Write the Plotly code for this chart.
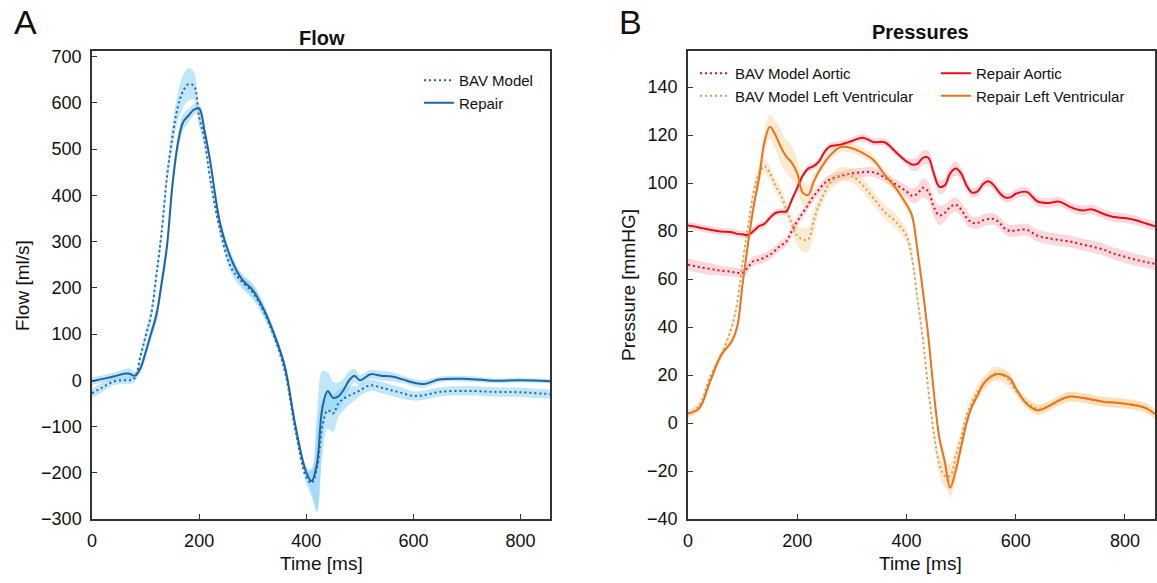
import plotly.graph_objects as go

# ---------------- Flow panel data ----------------
t_flow = [0, 20, 40, 60, 70, 80, 90, 100, 110, 120, 130, 140, 150, 160, 170, 180, 190, 200,
          210, 220, 240, 260, 280, 300, 320, 340, 360, 380, 400, 410, 420, 430, 440, 450,
          460, 470, 480, 490, 500, 520, 540, 560, 580, 600, 620, 650, 700, 750, 800, 855]
flow_repair = [-2, 3, 8, 14, 14, 10, 25, 60, 100, 140, 210, 290, 420, 510, 558, 572, 585, 588,
               540, 478, 335, 262, 218, 195, 155, 100, 30, -100, -199, -218, -180, -60, -23, -38,
               -35, -20, 0, 10, 0, 13, 10, 8, 2, -5, -8, 2, 3, -1, 0, -2]
flow_bav = [-28, -15, -3, 0, 0, 5, 50, 95, 140, 225, 320, 440, 525, 590, 625, 640, 637, 570,
            520, 440, 320, 243, 213, 190, 150, 95, 20, -110, -210, -222, -190, -100, -65, -72,
            -50, -40, -33, -28, -22, -11, -16, -22, -28, -34, -32, -25, -23, -25, -26, -30]
flow_repair_sd = [8, 8, 8, 10, 12, 8, 10, 12, 14, 16, 18, 20, 22, 20, 18, 15, 12, 10,
                  10, 10, 10, 12, 12, 14, 12, 10, 10, 10, 12, 25, 105, 80, 40, 35,
                  30, 25, 20, 15, 12, 10, 10, 10, 8, 8, 8, 6, 6, 5, 5, 5]
flow_bav_sd = [10, 10, 8, 8, 8, 8, 10, 12, 14, 16, 18, 20, 25, 30, 35, 35, 30, 20,
               15, 12, 10, 12, 15, 15, 12, 10, 10, 10, 12, 30, 90, 60, 40, 40,
               30, 25, 20, 15, 12, 12, 12, 12, 12, 10, 10, 10, 10, 10, 10, 10]

# ---------------- Pressure panel data ----------------
t_press = [0, 20, 40, 60, 80, 90, 100, 110, 120, 130, 140, 150, 160, 170, 180, 190, 200, 210,
           220, 230, 240, 250, 260, 280, 300, 320, 340, 360, 380, 400, 410, 420, 430, 440,
           450, 460, 470, 480, 490, 500, 510, 520, 530, 540, 550, 560, 570, 580, 590, 600,
           620, 640, 660, 680, 700, 720, 740, 760, 780, 800, 820, 840, 855]
p_repair_ao = [82.3, 81.5, 80.5, 79.8, 79.5, 78.8, 78.6, 78.4, 80, 82, 83, 85.5, 87.5, 88, 88.2,
               93, 98, 103, 106, 107, 109, 113, 115.3, 116, 117.5, 118.9, 117, 117, 113, 109,
               107.7, 108, 110.5, 110.5, 104, 98.5, 99, 104, 106, 104, 99, 96, 96.5, 99.5, 100.7,
               99, 96, 94, 94, 95.5, 96.3, 92.3, 91.7, 92.2, 90, 88.6, 89, 87.2, 85.8, 85.4, 84.5,
               83, 82]
p_bav_ao = [66, 65, 64.2, 63.5, 63, 62.6, 62.5, 65, 67.5, 68, 69, 70.1, 72, 74, 75.6, 80, 84,
            87.5, 91, 94.5, 97.3, 100, 101.5, 103, 104, 104.5, 104.5, 102.3, 99.5, 96.5, 94.7,
            95.5, 98, 96.5, 90, 86.5, 87.5, 90, 91, 89, 85.5, 83.5, 83.3, 84.5, 85, 85,
            83.5, 81, 80, 80.2, 80.5, 78, 77, 76.2, 75.6, 74.5, 73.5, 72.3, 70.5, 69.3, 68, 67,
            66.3]
p_repair_lv = [3.9, 6, 17, 28, 34, 40, 58, 75, 90, 102, 117, 123.4, 120, 115, 111, 108.5, 104,
               96, 95, 100.5, 105, 108.5, 111.5, 115, 114.5, 112.5, 109.5, 103.5, 98, 91, 86.5,
               72, 55, 36, 13, -6, -16, -27, -20, -10, 0, 7, 11.5, 16, 18.5, 20, 20.4, 19.8,
               18.5, 14.5, 8, 5.3, 7, 9.5, 11, 10.5, 9.8, 8.8, 8.5, 8, 7.3, 6, 3.8]
p_bav_lv = [3.9, 7, 19, 28, 40, 50, 67, 82, 96, 104, 107, 104, 99, 95, 89, 83, 78, 76.5, 76.4,
            84, 91, 96, 100, 103.5, 103, 99, 93.5, 88, 84, 78, 69, 52, 35, 14, -4, -17, -22,
            -22, -14, -6, 3, 8.5, 13, 16, 18.5, 20.5, 20.4, 19.5, 17, 13.5, 8.5, 6, 7, 9.5, 11,
            10.5, 9.5, 9, 8.5, 8, 7.5, 6, 4]
sd_repair_ao = [1.5] * 30 + [2.5, 3, 3, 3, 3, 3, 3, 3, 3, 2.5, 2.5, 2, 2, 2, 2, 2, 2, 2, 2, 2,
                             2, 2, 2, 2, 2, 2, 2, 2, 2, 2, 2, 2, 2]
sd_bav_ao = [2.5, 2.5, 2.5, 2, 2, 2, 2, 2, 2, 2, 2, 2, 2, 2, 2, 2, 2, 2, 2, 2, 2, 2, 2, 2, 2,
             2, 2, 2, 2, 2.5, 3, 3.5, 4, 4, 4, 4, 3.5, 3, 3, 3, 3, 2.5, 2.5, 2.5, 2.5, 2.5,
             2.5, 2.5, 2.5, 2.5, 2.5, 2.5, 2.5, 2.5, 2.5, 2.5, 2.5, 2.5, 2.5, 2.5, 2.5, 2.5,
             2.5]
sd_repair_lv = [1.5, 1.5, 1.5, 1.5, 1.5, 2, 2, 2, 3, 4, 5, 5, 6, 7, 7, 7, 6, 5, 4, 3, 2, 2,
                2, 2, 2, 2, 2, 2, 2, 2, 2, 3, 3, 3, 3, 3, 4, 4, 4, 3, 3, 2, 2, 2, 2, 2, 2, 2,
                2, 2, 2, 2, 2, 2, 2, 2, 2, 2, 2, 2, 2, 2, 2]
sd_bav_lv = [1.5, 1.5, 1.5, 1.5, 2, 2, 2, 2, 3, 3, 3, 3, 3, 3, 3, 3, 4, 5, 5, 5, 3, 3, 3, 3,
             3, 3, 3, 3, 3, 3, 3, 3, 3, 3, 3, 4, 5, 5, 4, 3, 3, 3, 3, 3, 3, 3, 3, 3, 3, 2,
             2, 2, 2, 2, 2, 2, 2, 2, 2, 2, 2, 2, 2]

FONT = "Liberation Sans, Arial, Helvetica, sans-serif"
BLUE = "#1f64a6"
BLUE_BAND = "rgba(140,210,245,0.55)"
RED = "#e3111b"
RED_BAND = "rgba(240,160,170,0.40)"
ORANGE = "#e8741e"
TAN = "#c8a064"
ORANGE_BAND = "rgba(250,205,140,0.40)"
DOT = "2px,3px"

fig = go.Figure()


def band(x, y, sd, color, xa, ya):
    up = [a + b for a, b in zip(y, sd)]
    lo = [a - b for a, b in zip(y, sd)]
    fig.add_trace(go.Scatter(x=x, y=up, mode="lines", line=dict(width=0, shape="spline"),
                             showlegend=False, hoverinfo="skip", xaxis=xa, yaxis=ya))
    fig.add_trace(go.Scatter(x=x, y=lo, mode="lines", line=dict(width=0, shape="spline"),
                             fill="tonexty", fillcolor=color, showlegend=False,
                             hoverinfo="skip", xaxis=xa, yaxis=ya))


# Flow bands
band(t_flow, flow_bav, flow_bav_sd, BLUE_BAND, "x", "y")
band(t_flow, flow_repair, flow_repair_sd, BLUE_BAND, "x", "y")
# Pressure bands
band(t_press, p_bav_ao, sd_bav_ao, RED_BAND, "x2", "y2")
band(t_press, p_repair_ao, sd_repair_ao, RED_BAND, "x2", "y2")
band(t_press, p_bav_lv, sd_bav_lv, ORANGE_BAND, "x2", "y2")
band(t_press, p_repair_lv, sd_repair_lv, ORANGE_BAND, "x2", "y2")

# Flow lines
fig.add_trace(go.Scatter(x=t_flow, y=flow_bav, mode="lines", name="BAV Model",
                         line=dict(color=BLUE, width=2, dash=DOT, shape="spline"),
                         xaxis="x", yaxis="y", legend="legend"))
fig.add_trace(go.Scatter(x=t_flow, y=flow_repair, mode="lines", name="Repair",
                         line=dict(color=BLUE, width=2, shape="spline"),
                         xaxis="x", yaxis="y", legend="legend"))

# Pressure lines
fig.add_trace(go.Scatter(x=t_press, y=p_bav_ao, mode="lines", name="BAV Model Aortic",
                         line=dict(color=RED, width=2, dash=DOT, shape="spline"),
                         xaxis="x2", yaxis="y2", legend="legend2"))
fig.add_trace(go.Scatter(x=t_press, y=p_bav_lv, mode="lines", name="BAV Model Left Ventricular",
                         line=dict(color=TAN, width=2, dash=DOT, shape="spline"),
                         xaxis="x2", yaxis="y2", legend="legend2"))
fig.add_trace(go.Scatter(x=t_press, y=p_repair_ao, mode="lines", name="Repair Aortic",
                         line=dict(color=RED, width=2, shape="spline"),
                         xaxis="x2", yaxis="y2", legend="legend3"))
fig.add_trace(go.Scatter(x=t_press, y=p_repair_lv, mode="lines", name="Repair Left Ventricular",
                         line=dict(color=ORANGE, width=2, shape="spline"),
                         xaxis="x2", yaxis="y2", legend="legend3"))

W, H = 1157, 583
axis_common = dict(showline=True, linecolor="#333333", linewidth=1.5, mirror=True,
                   ticks="inside", ticklen=5, tickcolor="#333333", showgrid=False,
                   zeroline=False, tickfont=dict(family=FONT, size=18, color="#111"),
                   ticklabelstandoff=5, automargin=False)

leg_common = dict(xanchor="left", yanchor="top", bgcolor="rgba(0,0,0,0)",
                  font=dict(family=FONT, size=15), tracegroupgap=0, itemwidth=30,
                  traceorder="normal")

fig.update_layout(
    width=W, height=H, paper_bgcolor="white", plot_bgcolor="white",
    margin=dict(l=0, r=0, t=0, b=0, pad=0, autoexpand=False),
    font=dict(family=FONT, color="#111"),
    xaxis=dict(domain=[92 / W, 550 / W], range=[0, 855], tickvals=[0, 200, 400, 600, 800],
               anchor="y", **axis_common),
    yaxis=dict(domain=[(H - 519) / H, (H - 51) / H], range=[-300, 712],
               tickvals=list(range(-300, 701, 100)), anchor="x", **axis_common),
    xaxis2=dict(domain=[688 / W, 1155 / W], range=[0, 855], tickvals=[0, 200, 400, 600, 800],
                anchor="y2", **axis_common),
    yaxis2=dict(domain=[(H - 519) / H, (H - 51) / H], range=[-40, 155],
                tickvals=list(range(-40, 141, 20)), anchor="x2", **axis_common),
    legend=dict(x=419 / W, y=(H - 64) / H, **leg_common),
    legend2=dict(x=695 / W, y=(H - 57) / H, **leg_common),
    legend3=dict(x=936 / W, y=(H - 57) / H, **leg_common),
    showlegend=True,
)


def label(text, x, y, size, angle=0):
    return dict(text=text, x=x / W, y=(H - y) / H, xref="paper", yref="paper",
                xanchor="center", yanchor="middle", showarrow=False, textangle=angle,
                font=dict(family=FONT, size=size))


ann = [
    label("A", 25, 22, 34),
    label("B", 630, 22, 34),
    label("<b>Flow</b>", 322, 38, 20),
    label("<b>Pressures</b>", 920, 32, 20),
    label("Flow [ml/s]", 22, 285, 19, -90),
    label("Pressure [mmHG]", 628, 285, 19, -90),
    label("Time [ms]", 321, 563, 19),
    label("Time [ms]", 920, 563, 19),
]
fig.update_layout(annotations=ann)

fig.write_html("out.html", config={"displayModeBar": False},
               post_script="document.body.style.margin='0';document.body.style.overflow='hidden';")
